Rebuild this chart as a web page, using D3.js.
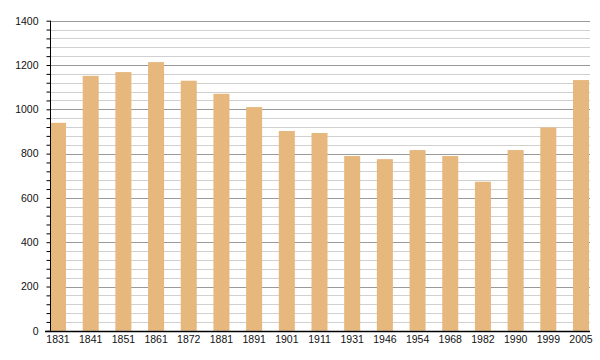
<!DOCTYPE html>
<html>
<head>
    <meta charset="utf-8">
    <title>Population</title>
    <style>
        body { margin: 0; background: #fff; }
        text { font-family: "Liberation Sans", Arial, sans-serif; }
    </style>
</head>
<body>
<svg id="svg"></svg>
<script src="https://cdn.jsdelivr.net/npm/d3@7"></script>
<script>
    const years = ['1831', '1841', '1851', '1861', '1872', '1881', '1891', '1901', '1911',
        '1931', '1946', '1954', '1968', '1982', '1990', '1999', '2005']
    const population = [939, 1151, 1168, 1213, 1129, 1070, 1010, 902, 893,
        789, 775, 816, 789, 673, 816, 918, 1132]
    const yTicks = [0, 200, 400, 600, 800, 1000, 1200, 1400]

    const WIDTH = 600
    const HEIGHT = 360
    const LEFT = 50, RIGHT = 590, TOP = 20.7, BOTTOM = 330.8

    const svg = d3.select('svg')
        .attr('width', WIDTH)
        .attr('height', HEIGHT)

    const x = d3.scaleBand()
        .domain(years)
        .range([LEFT, 589])
        .paddingInner(0.51)
        .paddingOuter(0)

    const y = d3.scaleLinear()
        .domain([0, 1400])
        .range([BOTTOM, TOP])

    const minor = d3.range(0, 1401, 40)

    // grid lines, darker every 200
    svg.append('g')
        .selectAll('line')
        .data(minor.filter(d => d > 0))
        .enter().append('line')
        .attr('x1', LEFT)
        .attr('x2', RIGHT)
        .attr('y1', d => Math.round(y(d)) + 0.5)
        .attr('y2', d => Math.round(y(d)) + 0.5)
        .attr('stroke', d => d % 200 === 0 ? '#9a9a9a' : '#d0d0d0')
        .attr('stroke-width', 1)

    svg.append('g')
        .selectAll('rect')
        .data(population)
        .enter().append('rect')
        .attr('x', (d, i) => x(years[i]))
        .attr('width', x.bandwidth())
        .attr('y', d => y(d))
        .attr('height', d => y(0) - y(d))
        .attr('fill', '#e6b87d')

    // y axis with a tick every 40
    const yAxis = svg.append('g')
        .attr('transform', `translate(${LEFT + 0.5},0)`)
        .call(d3.axisLeft(y).tickValues(minor).tickSize(4).tickFormat(d => yTicks.includes(d) ? d : ''))
    yAxis.select('.domain').attr('d', `M0,${TOP}V${BOTTOM}`).attr('stroke', '#000')
    yAxis.selectAll('.tick line').attr('stroke', '#000')
    yAxis.selectAll('.tick text')
        .attr('x', -12)
        .attr('fill', '#111')
        .attr('font-size', 10.5)
        .attr('font-family', '"Liberation Sans", Arial, sans-serif')

    const xAxis = svg.append('g')
        .attr('transform', `translate(0,${Math.round(BOTTOM) + 0.5})`)
        .call(d3.axisBottom(x).tickSize(0).tickPadding(4))
    xAxis.select('.domain').attr('d', `M45,0H${RIGHT}`).attr('stroke', '#000').attr('stroke-width', 1.5)
    xAxis.selectAll('.tick text')
        .attr('fill', '#111')
        .attr('font-size', 10.5)
        .attr('font-family', '"Liberation Sans", Arial, sans-serif')
</script>
</body>
</html>
